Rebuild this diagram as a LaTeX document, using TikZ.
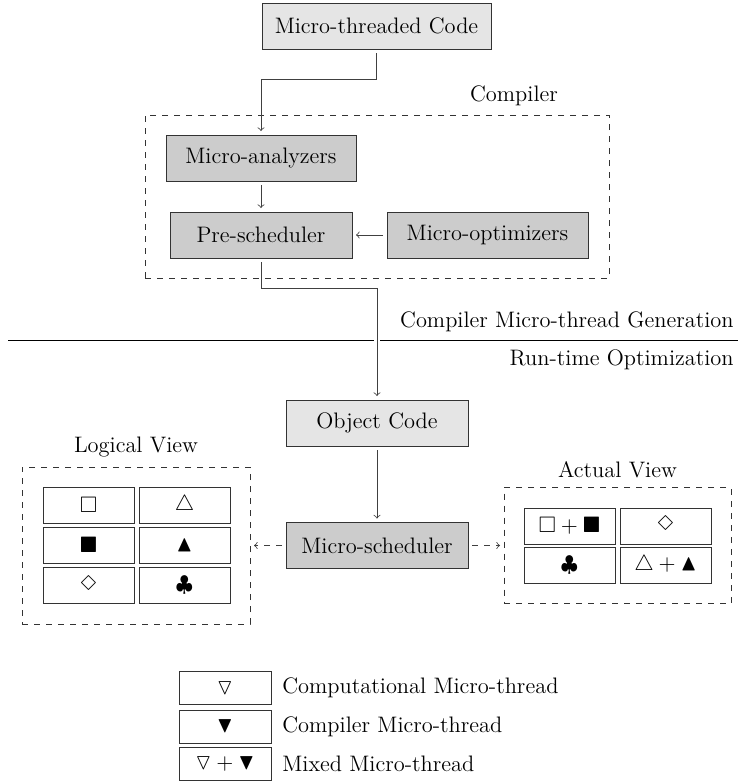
\documentclass[tikz,border=0pt]{standalone}
\usepackage{amssymb}
\DeclareSymbolFont{lasyfnt}{U}{lasy}{m}{n}
\DeclareMathSymbol{\lsDiamond}{\mathord}{lasyfnt}{"33}
\begin{document}
\begin{tikzpicture}[x=0.5pt,y=-0.5pt,
  font=\fontsize{11.2pt}{13.5pt}\selectfont,
  lightbox/.style={draw=black!80,fill=gray!20,minimum height=23pt,inner sep=0pt,outer sep=2pt},
  darkbox/.style={draw=black!80,fill=gray!40,minimum height=23pt,inner sep=0pt,outer sep=2pt},
  dashbox/.style={draw=black!80,dashed,inner sep=0pt,outer sep=2pt},
  cell/.style={draw=black!80,minimum width=45.5pt,minimum height=18pt,inner sep=0pt},
  lcell/.style={draw=black!80,minimum width=46pt,minimum height=16.5pt,inner sep=0pt},
  arr/.style={->,black!75},
  darr/.style={->,black!75,dashed},
  lbl/.style={inner sep=0pt}]
\useasboundingbox (0,0) rectangle (738,782);

% top
\node[lightbox,minimum width=114.5pt] (mtc) at (376.5,26) {Micro-threaded Code};
\node[dashbox,minimum width=232pt,minimum height=81.5pt] (comp) at (377,196.5) {};
\node[lbl] (complbl) at (514,96) {Compiler};
\node[darkbox,minimum width=95pt] (ma) at (261,158) {Micro-analyzers};
\node[darkbox,minimum width=91pt] (ps) at (261,235) {Pre-scheduler};
\node[darkbox,minimum width=100.5pt] (mo) at (487.5,235) {Micro-optimizers};

\coordinate (k1) at (0,79);
\coordinate (k2) at (0,288);
\draw[arr] (mtc.south) -- (mtc.south |- k1) -| (ma.north);
\draw[arr] (ma) -- (ps);
\draw[arr] (mo) -- (ps);

% separator
\coordinate (sepL) at (8,340);
\coordinate (sepA) at (374,340);
\coordinate (sepB) at (380,340);
\coordinate (sepR) at (738,340);
\draw[black] (sepL) -- (sepA);
\draw[black] (sepB) -- (sepR);
\node[lbl,anchor=east] (gen) at (734,322) {Compiler Micro-thread Generation};
\node[lbl,anchor=east] (rt) at (734,360) {Run-time Optimization};

% runtime
\node[lightbox,minimum width=91pt] (oc) at (377,423) {Object Code};
\node[darkbox,minimum width=91pt] (ms) at (377,545.5) {Micro-scheduler};
\draw[arr] (ps.south) -- (ps.south |- k2) -| (oc.north);
\draw[arr] (oc) -- (ms);

% logical view
\node[dashbox,minimum width=114pt,minimum height=78.5pt] (lv) at (136,545.5) {};
\node[lbl] (lvlbl) at (136,447) {Logical View};
\node[cell] (l11) at (88.5,505) {$\square$};
\node[cell] (l12) at (184.5,505) {$\triangle$};
\node[cell] (l21) at (88.5,545) {$\blacksquare$};
\node[cell] (l22) at (184.5,545) {$\blacktriangle$};
\node[cell] (l31) at (88.5,585.5) {$\lsDiamond$};
\node[cell] (l32) at (184.5,585.5) {$\clubsuit$};

% actual view
\node[dashbox,minimum width=113.5pt,minimum height=58pt] (av) at (617.5,545.5) {};
\node[lbl] (avlbl) at (617.5,470) {Actual View};
\node[cell] (a11) at (569.5,526) {$\square + \blacksquare$};
\node[cell] (a12) at (665.5,526) {$\lsDiamond$};
\node[cell] (a21) at (569.5,565.5) {$\clubsuit$};
\node[cell] (a22) at (665.5,565.5) {$\triangle + \blacktriangle$};

\draw[darr] (ms) -- (lv);
\draw[darr] (ms) -- (av);

% legend
\node[lcell] (g1) at (225,688) {$\triangledown$};
\node[lcell] (g2) at (225,726.5) {$\blacktriangledown$};
\node[lcell] (g3) at (225,764) {$\triangledown + \blacktriangledown$};
\node[lbl,anchor=west] (t1) at (282,688) {Computational Micro-thread};
\node[lbl,anchor=west] (t2) at (282,726.5) {Compiler Micro-thread};
\node[lbl,anchor=west] (t3) at (282,764) {Mixed Micro-thread};
\end{tikzpicture}
\end{document}
